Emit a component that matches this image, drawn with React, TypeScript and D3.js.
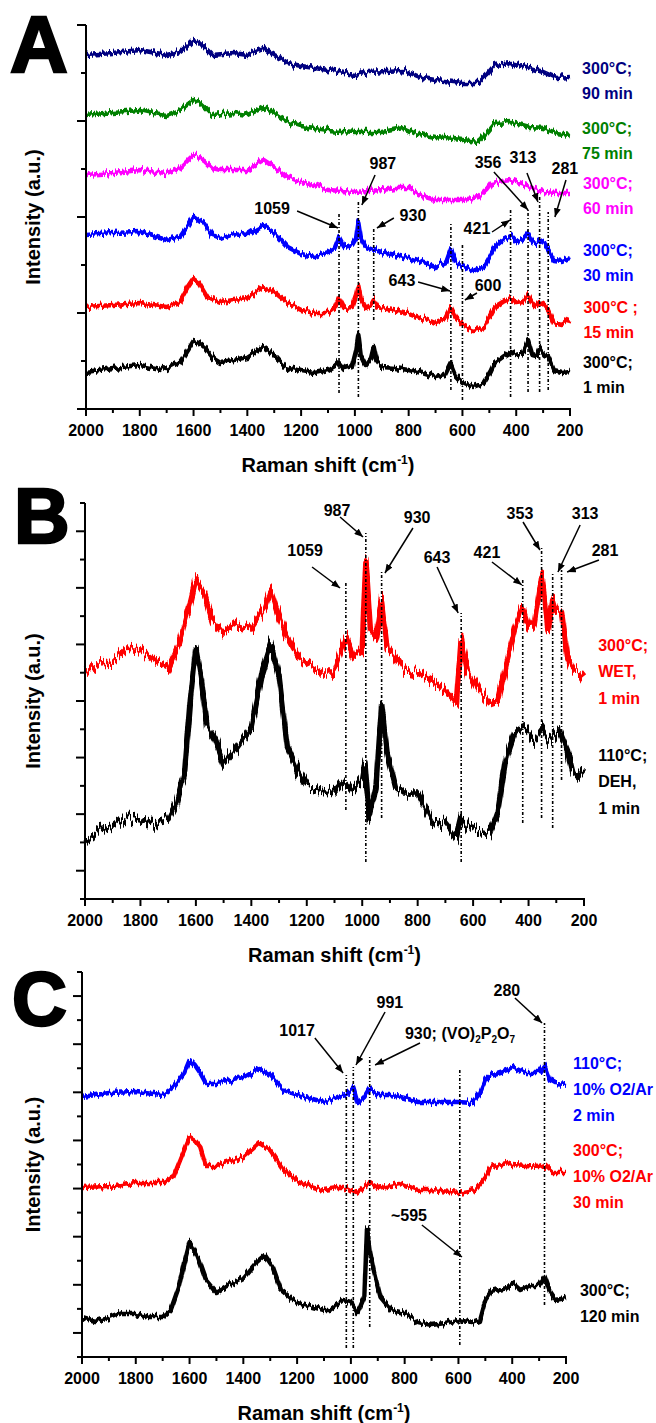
import React from 'react';
import * as d3 from 'd3';

type Pt = [number, number]; // [Raman shift cm-1, intensity a.u.]

// ---------- panel A : 300°C, different times ----------
const a1min: Pt[] = [[2000,37],[1900,41],[1800,44],[1700,39],[1650,46],[1620,59],[1600,68],[1580,66],[1560,62],[1530,52],[1500,47],[1450,49],[1400,52],[1360,59],[1340,62],[1300,54],[1260,42],[1200,38],[1150,36],[1100,39],[1075,43],[1059,47],[1040,41],[1010,43],[995,59],[987,74],[978,54],[960,44],[940,51],[930,62],[920,49],[900,42],[850,41],[800,39],[750,36],[700,32],[665,34],[643,46],[625,34],[600,27],[560,22],[520,26],[495,37],[480,46],[450,52],[420,57],[400,54],[375,56],[356,69],[340,54],[325,53],[313,61],[295,54],[280,52],[260,39],[230,37],[200,38]];
const a15min: Pt[] = [[2000,102],[1900,104],[1800,106],[1700,102],[1650,107],[1620,122],[1600,130],[1580,126],[1550,112],[1500,107],[1450,109],[1400,111],[1360,119],[1340,122],[1300,117],[1250,106],[1200,99],[1150,96],[1100,96],[1075,101],[1059,111],[1040,101],[1010,102],[995,114],[987,124],[978,111],[960,101],[940,104],[930,109],[915,102],[900,101],[800,96],[700,86],[665,89],[643,101],[625,91],[600,84],[560,79],[520,82],[495,94],[480,102],[450,107],[420,111],[400,106],[375,107],[356,114],[340,106],[325,102],[313,107],[295,104],[280,99],[260,86],[230,84],[200,90]];
const a30min: Pt[] = [[2000,174],[1900,176],[1800,177],[1700,169],[1650,172],[1620,184],[1600,193],[1580,189],[1560,186],[1530,174],[1500,171],[1450,176],[1400,174],[1360,181],[1340,184],[1300,177],[1250,162],[1200,155],[1150,152],[1100,157],[1075,161],[1059,172],[1040,162],[1010,164],[995,171],[987,187],[978,171],[960,162],[930,159],[900,157],[800,151],[700,142],[660,147],[643,160],[625,147],[600,143],[560,137],[520,142],[495,154],[480,162],[450,169],[420,173],[400,167],[375,169],[356,175],[340,167],[325,166],[313,169],[295,166],[280,159],[260,149],[230,148],[200,151]];
const a60min: Pt[] = [[2000,234],[1900,236],[1800,239],[1700,236],[1650,241],[1620,249],[1600,254],[1580,252],[1560,249],[1530,241],[1500,239],[1400,239],[1360,246],[1340,249],[1300,242],[1250,232],[1200,227],[1150,224],[1100,219],[1000,217],[900,219],[850,221],[800,221],[750,213],[700,209],[600,209],[540,212],[510,219],[490,226],[450,228],[420,229],[380,225],[350,222],[300,217],[250,216],[200,216]];
const a75min: Pt[] = [[2000,294],[1900,297],[1800,299],[1750,296],[1700,294],[1650,299],[1620,305],[1600,309],[1580,307],[1560,302],[1530,294],[1450,296],[1400,294],[1360,299],[1340,302],[1300,296],[1250,287],[1200,283],[1150,281],[1100,279],[1000,277],[900,277],[820,281],[780,276],[700,272],[600,269],[540,267],[510,276],[480,286],[420,287],[350,282],[300,281],[250,276],[200,274]];
const a90min: Pt[] = [[2000,354],[1900,356],[1800,359],[1700,354],[1650,357],[1620,364],[1600,369],[1580,367],[1560,362],[1530,354],[1450,356],[1400,354],[1360,359],[1340,361],[1300,354],[1250,346],[1200,343],[1150,341],[1100,339],[1000,334],[950,337],[820,339],[750,331],[700,329],[600,326],[540,326],[510,334],[480,344],[420,346],[350,341],[300,337],[250,331],[200,332]];

// peak markers: [shift, low, high]
const markA: Pt3[] = [[1059,16,196],[987,12,209],[930,89,181],[643,19,187],[600,9,164],[421,12,201],[356,17,199],[313,17,212],[281,19,197]];
// annotations: label, text at (shift, int), arrow from -> to
const noteA: Note[] = [
  ['1059',1308,201,1215,198,1063,181],
  ['987',896,246,925,234,974,204],
  ['930',784,194,855,191,918,181],
  ['356',505,247,483,237,356,199],
  ['313',375,252,360,236,319,207],
  ['281',219,241,215,229,256,192],
  ['421',546,181,490,177,423,189],
  ['643',825,129,765,127,646,118],
  ['600',505,124,546,116,591,109],
];

// ---------- panel B : wet vs dehydrated ----------
const bWet: Pt[] = [[2000,229],[1950,236],[1900,237],[1850,251],[1800,249],[1750,239],[1700,232],[1660,256],[1620,296],[1600,319],[1570,306],[1540,279],[1500,266],[1450,276],[1400,272],[1350,292],[1330,309],[1300,282],[1270,262],[1230,242],[1200,236],[1150,229],[1100,229],[1059,262],[1030,242],[1000,249],[987,339],[970,269],[950,262],[930,299],[910,252],[880,242],[850,229],[800,226],[750,219],[700,209],[660,196],[643,259],[620,229],[580,209],[540,196],[510,199],[480,236],[450,269],[421,292],[400,272],[380,272],[353,322],[340,296],[330,272],[313,299],[300,286],[281,286],[260,242],[240,229],[220,229],[200,222]];
const bDeh: Pt[] = [[2000,59],[1950,69],[1900,72],[1850,82],[1800,79],[1750,76],[1700,79],[1670,96],[1640,129],[1620,199],[1600,251],[1580,219],[1560,174],[1530,159],[1500,136],[1450,152],[1400,172],[1360,229],[1330,256],[1300,222],[1270,152],[1230,126],[1200,112],[1150,109],[1100,106],[1059,119],[1030,109],[1000,119],[990,136],[975,82],[950,112],[930,194],[910,146],[880,112],[850,106],[800,106],[750,79],[700,76],[660,62],[643,82],[620,72],[580,69],[540,66],[510,89],[480,142],[450,166],[421,171],[400,166],[380,159],[353,169],[330,159],[313,162],[290,169],[260,149],[240,126],[220,122],[200,129]];
const markB: Pt3[] = [[1059,89,316],[987,37,366],[930,81,329],[643,37,286],[421,76,321],[353,81,351],[313,71,327],[281,119,329]];
const noteB: Note[] = [
  ['1059',1206,349,1181,332,1080,311],
  ['987',1091,389,1080,382,997,362],
  ['930',802,382,817,371,918,326],
  ['643',730,342,730,332,654,286],
  ['421',550,347,532,337,424,314],
  ['353',431,386,420,377,359,349],
  ['313',196,386,214,374,294,327],
  ['281',124,349,146,339,261,327],
];

// ---------- panel C : 10% O2/Ar ----------
const c110: Pt[] = [[2000,260],[1900,264],[1800,265],[1700,262],[1660,270],[1620,284],[1600,297],[1580,292],[1560,284],[1540,274],[1500,274],[1400,279],[1340,289],[1300,282],[1250,267],[1200,262],[1100,255],[1050,260],[1017,262],[991,269],[975,254],[950,260],[930,269],[900,262],[850,262],[800,259],[750,255],[700,255],[600,255],[550,254],[520,264],[500,277],[480,282],[420,287],[400,290],[350,284],[300,284],[280,292],[260,277],[240,274],[200,273]];
const c300: Pt[] = [[2000,169],[1900,170],[1800,174],[1700,174],[1660,180],[1620,207],[1600,220],[1580,217],[1560,210],[1540,192],[1500,192],[1400,200],[1340,214],[1300,207],[1250,187],[1200,175],[1100,167],[1050,169],[1017,169],[980,164],[930,174],[900,169],[820,174],[750,167],[700,167],[600,164],[540,167],[500,180],[480,190],[420,194],[400,192],[300,190],[280,192],[250,185],[200,185]];
const c120: Pt[] = [[2000,39],[1950,35],[1900,39],[1850,44],[1800,44],[1750,40],[1700,40],[1670,47],[1640,70],[1620,94],[1600,115],[1570,100],[1540,77],[1500,64],[1450,72],[1400,79],[1350,95],[1320,102],[1290,90],[1260,67],[1200,54],[1100,47],[1078,47],[1030,57],[1000,55],[975,44],[950,60],[940,129],[930,107],[915,87],[890,60],[850,47],[800,44],[750,35],[700,32],[650,34],[600,37],[550,34],[520,37],[500,57],[480,65],[420,69],[400,74],[370,67],[330,72],[300,72],[280,80],[260,65],[240,57],[200,59]];
const markC: Pt3[] = [[1017,9,282],[991,9,290],[930,30,300],[595,12,287],[280,52,334]];
const noteC: Note[] = [
  ['1017',1200,327,1134,319,1029,284],
  ['991',855,355,873,345,981,292],
  ['930; (VO)2P2O7',799,324,743,314,910,292],
  ['280',420,367,390,359,289,334],
  ['~595',784,142,736,132,587,100],
];

type Pt3 = [number, number, number];
type Note = [string, number, number, number, number, number, number];
type Label = { lines: string[]; color: string; w: number; v: number };

const xTicks = d3.range(200, 2001, 100);

const labelsA: Label[] = [
  { lines: ['300°C;', '90 min'], color: '#000080', w: 155, v: 341 },
  { lines: ['300°C;', '75 min'], color: '#008000', w: 155, v: 281 },
  { lines: ['300°C;', '60 min'], color: '#ff00ff', w: 152, v: 226 },
  { lines: ['300°C;', '30 min'], color: '#0000ff', w: 152, v: 159 },
  { lines: ['300°C ;', '15 min'], color: '#ff0000', w: 150, v: 102 },
  { lines: ['300°C;', '1 min'], color: '#000000', w: 152, v: 47 },
];
const labelsB: Label[] = [
  { lines: ['300°C;', 'WET,', '1 min'], color: '#ff0000', w: 149, v: 254 },
  { lines: ['110°C;', 'DEH,', '1 min'], color: '#000000', w: 149, v: 144 },
];
const labelsC: Label[] = [
  { lines: ['110°C;', '10% O2/Ar', '2 min'], color: '#0000ff', w: 174, v: 294 },
  { lines: ['300°C;', '10% O2/Ar', '30 min'], color: '#ff0000', w: 174, v: 207 },
  { lines: ['300°C;', '120 min'], color: '#000000', w: 148, v: 67 },
];

const FONT = '"Liberation Sans", Arial, sans-serif';

type PanelCfg = {
  letter: string; lx: number; ly: number; lsize: number;
  left: number; right: number; top: number; bottom: number;
  ymax: number; nTicks: number; majorOdd: boolean;
  series: { data: Pt[]; color: string }[];
  marks: Pt3[]; notes: Note[]; labels: Label[]; lineGap: number; noise: string; sw: number;
};

function NoteText({ t, x, y }: { t: string; x: number; y: number }) {
  if (t.includes('(VO)')) {
    return (
      <text x={x} y={y} dy="0.35em" fontSize={16}>
        930; (VO)<tspan dy={4} fontSize={10}>2</tspan><tspan dy={-4}>P</tspan>
        <tspan dy={4} fontSize={10}>2</tspan><tspan dy={-4}>O</tspan>
        <tspan dy={4} fontSize={10}>7</tspan>
      </text>
    );
  }
  return <text x={x} y={y} dy="0.35em" fontSize={16} textAnchor="middle">{t}</text>;
}

function Panel({ c }: { c: PanelCfg }) {
  const x = d3.scaleLinear().domain([2000, 200]).range([c.left, c.right]);
  const y = d3.scaleLinear().domain([0, c.ymax]).range([c.bottom, c.top]);
  const line = d3.line<Pt>().x(d => x(d[0])).y(d => y(d[1]));
  const step = c.ymax / c.nTicks;
  const yTicks = d3.range(0, c.nTicks + 1);
  const midX = (c.left + c.right) / 2;
  const midY = (c.top + c.bottom) / 2;
  return (
    <g>
      <text x={c.lx} y={c.ly} fontSize={c.lsize} fontWeight="bold" stroke="#000" strokeWidth={2.5}>{c.letter}</text>
      {c.series.map((s, i) => (
        <path key={i} d={line(s.data) || ''} fill="none" stroke={s.color} strokeWidth={c.sw}
          strokeLinejoin="round" filter={`url(#${c.noise})`} />
      ))}
      {c.marks.map((m, i) => (
        <line key={i} x1={x(m[0])} x2={x(m[0])} y1={y(m[1])} y2={y(m[2])}
          stroke="#000" strokeWidth={1.6} strokeDasharray="3 2 1 2" />
      ))}
      {c.notes.map((n, i) => (
        <g key={i} fontWeight="bold">
          <NoteText t={n[0]} x={x(n[1])} y={y(n[2])} />
          <line x1={x(n[3])} y1={y(n[4])} x2={x(n[5])} y2={y(n[6])} stroke="#000" strokeWidth={1.5} markerEnd="url(#arrow)" />
        </g>
      ))}
      {c.labels.map((l, i) => (
        <text key={i} x={x(l.w)} y={y(l.v)} fill={l.color} fontSize={16} fontWeight="bold">
          {l.lines.map((s, j) => <tspan key={j} x={x(l.w)} dy={j === 0 ? '0.35em' : c.lineGap}>{s}</tspan>)}
        </text>
      ))}
      {/* axes */}
      <line x1={c.left} x2={c.left} y1={c.top} y2={c.bottom + 1} stroke="#000" strokeWidth={2} />
      <line x1={c.left - 1} x2={c.right + 1} y1={c.bottom} y2={c.bottom} stroke="#000" strokeWidth={2} />
      {yTicks.map(i => {
        const major = c.majorOdd ? i % 2 === 1 : i % 2 === 0;
        return <line key={i} x1={c.left - (major ? 9 : 5)} x2={c.left} y1={y(i * step)} y2={y(i * step)} stroke="#000" strokeWidth={2} />;
      })}
      {xTicks.map(w => {
        const major = w % 200 === 0;
        return (
          <g key={w}>
            <line x1={x(w)} x2={x(w)} y1={c.bottom} y2={c.bottom + (major ? 7 : 4)} stroke="#000" strokeWidth={2} />
            {major && <text x={x(w)} y={c.bottom + 21} dy="0.35em" textAnchor="middle" fontSize={16} fontWeight="bold">{w}</text>}
          </g>
        );
      })}
      <text x={midX} y={c.bottom + 56} dy="0.35em" textAnchor="middle" fontSize={20} fontWeight="bold">
        Raman shift (cm<tspan dy={-8} fontSize={12}>-1</tspan><tspan dy={8}>)</tspan>
      </text>
      <text transform={`translate(33,${midY}) rotate(-90)`} dy="0.35em" textAnchor="middle" fontSize={20} fontWeight="bold">
        Intensity (a.u.)
      </text>
    </g>
  );
}

const panels: PanelCfg[] = [
  {
    letter: 'A', lx: 10, ly: 72, lsize: 80, left: 86, right: 570, top: 25, bottom: 409,
    ymax: 384, nTicks: 8, majorOdd: false, lineGap: 25, noise: 'nA', sw: 4.5,
    series: [
      { data: a1min, color: '#000000' }, { data: a15min, color: '#ff0000' }, { data: a30min, color: '#0000ff' },
      { data: a60min, color: '#ff00ff' }, { data: a75min, color: '#008000' }, { data: a90min, color: '#000080' },
    ],
    marks: markA, notes: noteA, labels: labelsA,
  },
  {
    letter: 'B', lx: 14, ly: 543, lsize: 77, left: 85, right: 584, top: 503, bottom: 899,
    ymax: 396, nTicks: 14, majorOdd: true, lineGap: 26.5, noise: 'nB', sw: 5.5,
    series: [{ data: bDeh, color: '#000000' }, { data: bWet, color: '#ff0000' }],
    marks: markB, notes: noteB, labels: labelsB,
  },
  {
    letter: 'C', lx: 12, ly: 1025, lsize: 76, left: 82, right: 566, top: 972, bottom: 1357,
    ymax: 385, nTicks: 16, majorOdd: true, lineGap: 26, noise: 'nA', sw: 4.5,
    series: [{ data: c120, color: '#000000' }, { data: c300, color: '#ff0000' }, { data: c110, color: '#0000ff' }],
    marks: markC, notes: noteC, labels: labelsC,
  },
];

function NoiseFilter({ id, scale }: { id: string; scale: number }) {
  return (
    <filter id={id} x="-2%" y="-30%" width="104%" height="160%" colorInterpolationFilters="sRGB">
      <feTurbulence type="fractalNoise" baseFrequency="0.45 0.02" numOctaves={2} seed={4} result="t" />
      <feColorMatrix in="t" type="matrix" values="0 0 0 0 0.5  1 0 0 0 0  0 0 0 0 0  0 0 0 0 1" result="m" />
      <feDisplacementMap in="SourceGraphic" in2="m" scale={scale} xChannelSelector="R" yChannelSelector="G" />
    </filter>
  );
}

export default function App() {
  return (
    <svg width={656} height={1423} style={{ position: 'absolute', left: 0, top: 0, background: '#fff' }}
      fontFamily={FONT}>
      <defs>
        <marker id="arrow" viewBox="0 0 10 8" refX={10} refY={4} markerWidth={9} markerHeight={7}
          markerUnits="userSpaceOnUse" orient="auto">
          <path d="M0,0 L10,4 L0,8 z" fill="#000" />
        </marker>
        <NoiseFilter id="nA" scale={10} />
        <NoiseFilter id="nB" scale={24} />
      </defs>
      {panels.map((p, i) => <Panel key={i} c={p} />)}
    </svg>
  );
}
